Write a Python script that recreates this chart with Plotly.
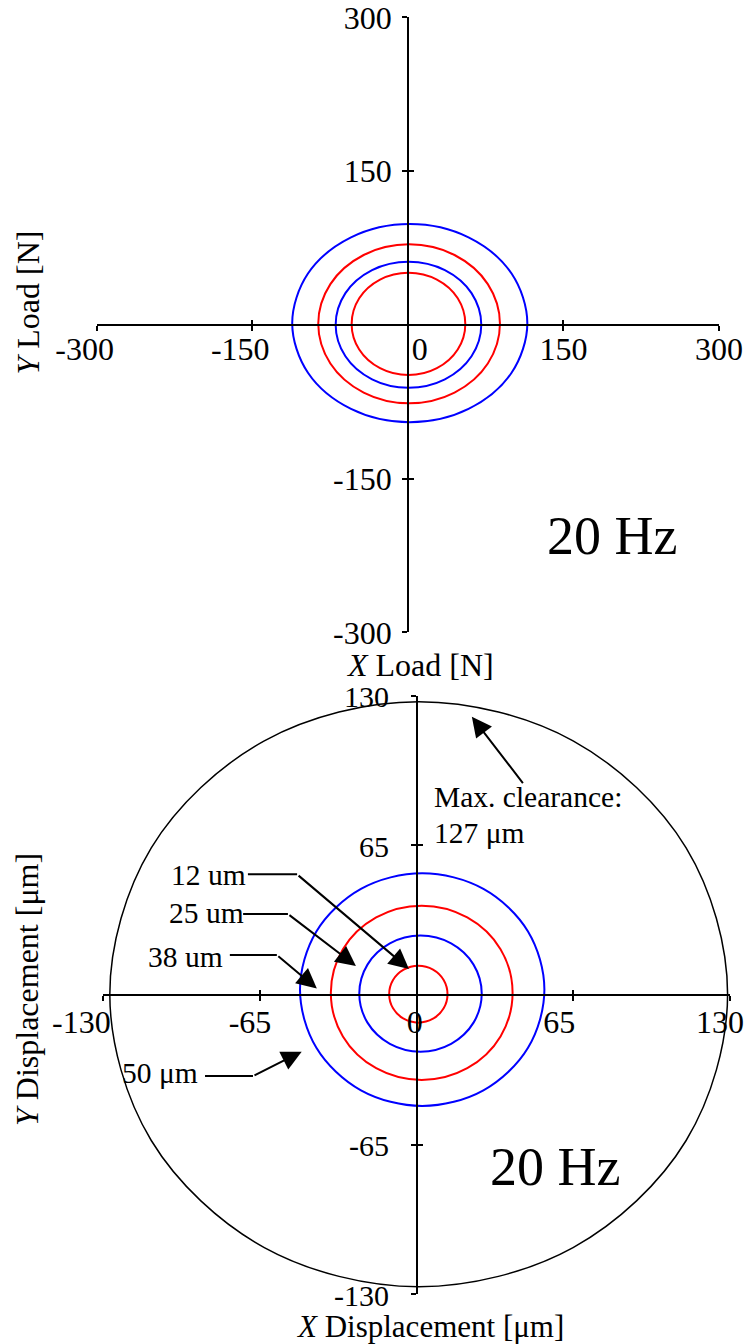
import plotly.graph_objects as go

FONT = "Liberation Serif"
NB = "\u00a0"

# ---------------- data: top panel (load orbits, N) ----------------
load_blue_outer_x = [115.2, 100.0, 58.5, 1.85, -54.8, -96.3, -111.5, -96.3, -54.8, 1.85, 58.5, 100.0, 115.2]
load_blue_outer_y = [1.6, 50.0, 85.3, 98.3, 85.3, 50.0, 1.6, -46.8, -82.1, -95.1, -82.1, -46.8, 1.6]
load_red_outer_x = [88.8, 77.1, 45.0, 1.2, -42.6, -74.7, -86.4, -74.7, -42.6, 1.2, 45.0, 77.1, 88.8]
load_red_outer_y = [0.95, 39.7, 68.1, 78.5, 68.1, 39.7, 0.95, -37.8, -66.2, -76.6, -66.2, -37.8, 0.95]
load_blue_inner_x = [70.8, 61.4, 35.7, 0.6, -34.5, -60.2, -69.6, -60.2, -34.5, 0.6, 35.7, 61.4, 70.8]
load_blue_inner_y = [0.1, 30.9, 53.4, 61.6, 53.4, 30.9, 0.1, -30.7, -53.2, -61.4, -53.2, -30.7, 0.1]
load_red_inner_x = [55.4, 48.1, 28.0, 0.6, -26.8, -46.9, -54.2, -46.9, -26.8, 0.6, 28.0, 48.1, 55.4]
load_red_inner_y = [0.9, 25.9, 44.1, 50.8, 44.1, 25.9, 0.9, -24.1, -42.3, -49.0, -42.3, -24.1, 0.9]

# ---------------- data: bottom panel (displacement orbits, um) ----------------
disp_50_x = [53.0, 46.2, 27.7, 2.3, -23.1, -41.6, -48.4, -41.6, -23.1, 2.3, 27.7, 46.2, 53.0]
disp_50_y = [2.35, 27.6, 46.1, 52.9, 46.1, 27.6, 2.35, -22.9, -41.4, -48.2, -41.4, -22.9, 2.35]
disp_38_x = [39.8, 34.8, 21.0, 2.1, -16.8, -30.6, -35.6, -30.6, -16.8, 2.1, 21.0, 34.8, 39.8]
disp_38_y = [0.95, 19.9, 33.7, 38.8, 33.7, 19.9, 0.95, -18.0, -31.8, -36.9, -31.8, -18.0, 0.95]
disp_25_x = [27.0, 23.6, 14.3, 1.6, -11.1, -20.4, -23.8, -20.4, -11.1, 1.6, 14.3, 23.6, 27.0]
disp_25_y = [0.6, 13.2, 22.4, 25.8, 22.4, 13.2, 0.6, -12.0, -21.2, -24.6, -21.2, -12.0, 0.6]
disp_12_x = [12.8, 11.2, 6.8, 0.7, -5.4, -9.8, -11.4, -9.8, -5.4, 0.7, 6.8, 11.2, 12.8]
disp_12_y = [0.35, 6.5, 11.0, 12.7, 11.0, 6.5, 0.35, -5.8, -10.3, -12.0, -10.3, -5.8, 0.35]
clearance_x = [129.0, 111.8, 64.9, 0.85, -63.2, -110.1, -127.3, -110.1, -63.2, 0.85, 64.9, 111.8, 129.0]
clearance_y = [0.35, 63.9, 110.4, 127.4, 110.4, 63.9, 0.35, -63.2, -109.7, -126.7, -109.7, -63.2, 0.35]

# ---------------- ticks ----------------
load_ticks = [-300, -150, 0, 150, 300]
load_xticktext = ["-300" + NB * 3, "-150" + NB * 3, NB * 3 + "0", "150", "300"]
load_yticktext = ["-300", "-150", "", "150", "300"]
disp_ticks = [-130, -65, 0, 65, 130]
disp_xticktext = ["-130" + NB * 3, "-65", NB * 2 + "0", "65" + NB, "130"]
disp_yticktext = ["-130", "-65", "", "65", "130"]

BLUE = "#0000ff"
RED = "#ff0000"

fig = go.Figure()

def orbit(x, y, color, xa, ya, width=2):
    fig.add_trace(go.Scatter(x=x, y=y, mode="lines", xaxis=xa, yaxis=ya,
                             line=dict(color=color, width=width, shape="spline", smoothing=1),
                             showlegend=False, hoverinfo="skip"))

orbit(load_blue_outer_x, load_blue_outer_y, BLUE, "x", "y")
orbit(load_red_outer_x, load_red_outer_y, RED, "x", "y")
orbit(load_blue_inner_x, load_blue_inner_y, BLUE, "x", "y")
orbit(load_red_inner_x, load_red_inner_y, RED, "x", "y")

orbit(clearance_x, clearance_y, "black", "x2", "y2", width=1.5)
orbit(disp_50_x, disp_50_y, BLUE, "x2", "y2")
orbit(disp_38_x, disp_38_y, RED, "x2", "y2")
orbit(disp_25_x, disp_25_y, BLUE, "x2", "y2")
orbit(disp_12_x, disp_12_y, RED, "x2", "y2")

# dummy traces for overlay axes (upper halves of crossing tick marks)
fig.add_trace(go.Scatter(x=[None], y=[None], xaxis="x3", yaxis="y3", showlegend=False))
fig.add_trace(go.Scatter(x=[None], y=[None], xaxis="x4", yaxis="y4", showlegend=False))

tickfont = dict(family=FONT, size=32, color="black")
tickfont_y2 = dict(family=FONT, size=30, color="black")

# geometry (paper fractions)
TOP_XDOM = [96.7 / 744, 719 / 744]
TOP_YDOM = [(1344 - 632.3) / 1344, (1344 - 17.3) / 1344]
TOP_XPOS = (1344 - 324.8) / 1344
TOP_YPOS = 407.9 / 744
BOT_XDOM = [103.3 / 744, 730 / 744]
BOT_YDOM = [(1344 - 1294.3) / 1344, (1344 - 695.7) / 1344]
BOT_XPOS = (1344 - 995) / 1344
BOT_YPOS = 416.7 / 744

common = dict(showgrid=False, zeroline=False, linecolor="black", linewidth=1.5, automargin=False,
              tickcolor="black", tickwidth=1.5, ticklen=5, tickmode="array",
              ticklabeloverflow="allow")

fig.update_layout(
    template="none",
    width=744, height=1344, margin=dict(l=0, r=0, t=0, b=0, pad=0), autosize=False,
    paper_bgcolor="white", plot_bgcolor="rgba(0,0,0,0)",
    xaxis=dict(domain=TOP_XDOM, range=[-300, 300], anchor="free", position=TOP_XPOS,
               showline=True, ticks="outside", tickvals=load_ticks, ticktext=load_xticktext,
               ticklabelstandoff=-9, tickfont=tickfont, **common),
    yaxis=dict(domain=TOP_YDOM, range=[-300, 300], anchor="free", position=TOP_YPOS,
               showline=True, ticks="outside", tickvals=load_ticks, ticktext=load_yticktext,
               ticklabelstandoff=4, tickfont=tickfont, **common),
    xaxis3=dict(overlaying="x", range=[-300, 300], anchor="free", position=TOP_XPOS,
                showline=False, ticks="inside", tickvals=load_ticks, showticklabels=False,
                tickfont=tickfont, **common),
    yaxis3=dict(overlaying="y", range=[-300, 300], anchor="free", position=TOP_YPOS,
                showline=False, ticks="inside", tickvals=load_ticks, showticklabels=False,
                tickfont=tickfont, **common),
    xaxis2=dict(domain=BOT_XDOM, range=[-130, 130], anchor="free", position=BOT_XPOS,
                showline=True, ticks="outside", tickvals=disp_ticks, ticktext=disp_xticktext,
                ticklabelshift=-10, ticklabelstandoff=-6, tickfont=tickfont, **common),
    yaxis2=dict(domain=BOT_YDOM, range=[-130, 130], anchor="free", position=BOT_YPOS,
                showline=True, ticks="outside", tickvals=disp_ticks, ticktext=disp_yticktext,
                ticklabelshift=1, ticklabelstandoff=16, tickfont=tickfont_y2, **common),
    xaxis4=dict(overlaying="x2", range=[-130, 130], anchor="free", position=BOT_XPOS,
                showline=False, ticks="inside", tickvals=disp_ticks, showticklabels=False,
                tickfont=tickfont, **common),
    yaxis4=dict(overlaying="y2", range=[-130, 130], anchor="free", position=BOT_YPOS,
                showline=False, ticks="inside", tickvals=disp_ticks, showticklabels=False,
                tickfont=tickfont, **common),
)

ann_font = dict(family=FONT, size=29.5, color="black")
title_font = dict(family=FONT, size=32, color="black")
big_font = dict(family=FONT, size=54, color="black")

# axis titles
fig.add_annotation(text="<i>X</i> Load [N]", xref="paper", yref="paper", x=419.5 / 744, y=(1344 - 665) / 1344,
                   showarrow=False, font=title_font, xanchor="center", yanchor="middle")
fig.add_annotation(text="<i>Y</i> Load [N]", xref="paper", yref="paper", x=27 / 744, y=(1344 - 302.5) / 1344,
                   showarrow=False, font=title_font, textangle=-90, xanchor="center", yanchor="middle")
fig.add_annotation(text="<i>X</i> Displacement [\u03bcm]", xref="paper", yref="paper", x=429.6 / 744,
                   y=-0.0015, showarrow=False, font=dict(family=FONT, size=31, color="black"),
                   xanchor="center", yanchor="bottom")
fig.add_annotation(text="<i>Y</i> Displacement [\u03bcm]", xref="paper", yref="paper", x=27 / 744,
                   y=(1344 - 990) / 1344, showarrow=False, font=title_font, textangle=-90,
                   xanchor="center", yanchor="middle")

# frequency labels
fig.add_annotation(text="20 Hz", xref="x", yref="y", x=196.9, y=-206, showarrow=False, font=big_font,
                   xanchor="center", yanchor="middle")
fig.add_annotation(text="20 Hz", xref="x2", yref="y2", x=57.4, y=-74.7, showarrow=False, font=big_font,
                   xanchor="center", yanchor="middle")

# clearance note
fig.add_annotation(text="Max. clearance:", xref="x2", yref="y2", x=6.3, y=86.0, showarrow=False,
                   font=ann_font, xanchor="left", yanchor="middle")
fig.add_annotation(text="127 \u03bcm", xref="x2", yref="y2", x=6.3, y=70.4, showarrow=False,
                   font=ann_font, xanchor="left", yanchor="middle")

def arrow(tail, tip):
    fig.add_annotation(text=" ", font=dict(size=1), xref="x2", yref="y2", axref="x2", ayref="y2",
                       x=tip[0], y=tip[1], ax=tail[0], ay=tail[1], showarrow=True,
                       arrowhead=2, arrowsize=2.0, arrowwidth=2, arrowcolor="black", standoff=0,
                       startstandoff=0)

arrow((44.7, 91.2), (22.9, 120.9))

# orbit labels with leader lines: (text, text right x, text y, line start x, line y, bend, tip)
labels = [
    ("12 um", -70.0, 52.1, -70.0, 52.4, (-49.6, 52.4), (-3.2, 11.3)),
    ("25 um", -71.0, 35.6, -72.0, 35.2, (-53.4, 35.2), (-25.2, 12.6)),
    ("38 um", -79.5, 16.5, -77.5, 17.4, (-58.0, 17.4), (-41.4, 2.8)),
    ("50 \u03bcm", -89.9, -33.7, -87.8, -35.2, (-67.9, -35.2), (-47.7, -24.6)),
]
for txt, tx, ty, lx, ly, bend, tip in labels:
    fig.add_annotation(text=txt, xref="x2", yref="y2", x=tx, y=ty, showarrow=False, font=ann_font,
                       xanchor="right", yanchor="middle")
    fig.add_shape(type="line", xref="x2", yref="y2", x0=lx, y0=ly, x1=bend[0], y1=bend[1],
                  line=dict(color="black", width=2))
    arrow(bend, tip)

fig.write_html("out.html")
